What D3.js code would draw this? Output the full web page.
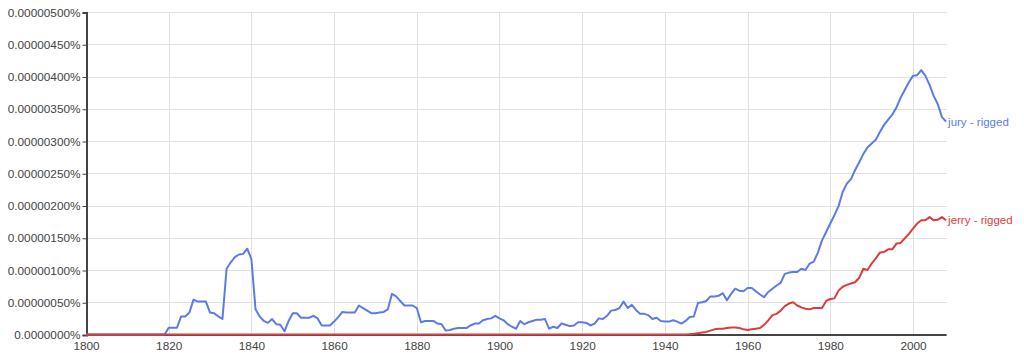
<!DOCTYPE html>
<html>
<head>
<meta charset="utf-8">
<script src="https://cdn.jsdelivr.net/npm/d3@7.9.0/dist/d3.min.js"></script>
<style>
  body { margin: 0; background: #fff; }
  svg { display: block; font-family: "Liberation Sans", Arial, Helvetica, sans-serif; }
  .grid line { stroke: #e0e0e0; stroke-width: 1; }
  .tick text { fill: #444; font-size: 11.8px; }
</style>
</head>
<body>
<svg id="chart" width="1024" height="359"></svg>
<script>
// values are in units of 0.000001 %
const firstYear = 1800;
const lastYear = 2008;
const yTicks = [0, 0.5, 1, 1.5, 2, 2.5, 3, 3.5, 4, 4.5, 5];
const xTicks = [1800, 1820, 1840, 1860, 1880, 1900, 1920, 1940, 1960, 1980, 2000];

// jury - rigged, 1819..2008 (zero before)
const juryStart = 1819;
const juryValues = [
  0, 0.105, 0.105, 0.105, 0.28, 0.28, 0.34, 0.54, 0.51, 0.51,        // 1819-1828
  0.51, 0.34, 0.33, 0.28, 0.24, 1.02, 1.12, 1.2, 1.24, 1.25,          // 1829-1838
  1.33, 1.17, 0.39, 0.28, 0.21, 0.18, 0.24, 0.16, 0.15, 0.05,         // 1839-1848
  0.21, 0.33, 0.33, 0.26, 0.26, 0.26, 0.29, 0.25, 0.14, 0.14,         // 1849-1858
  0.14, 0.2, 0.27, 0.35, 0.34, 0.34, 0.34, 0.45, 0.41, 0.37,          // 1859-1868
  0.33, 0.33, 0.34, 0.35, 0.39, 0.63, 0.59, 0.52, 0.45, 0.45,         // 1869-1878
  0.45, 0.41, 0.19, 0.21, 0.21, 0.21, 0.17, 0.16, 0.06, 0.07,         // 1879-1888
  0.09, 0.1, 0.1, 0.1, 0.14, 0.17, 0.17, 0.22, 0.24, 0.25,            // 1889-1898
  0.29, 0.25, 0.22, 0.16, 0.12, 0.09, 0.21, 0.16, 0.19, 0.21,         // 1899-1908
  0.23, 0.23, 0.24, 0.09, 0.12, 0.1, 0.17, 0.15, 0.13, 0.14,          // 1909-1918
  0.19, 0.19, 0.18, 0.14, 0.17, 0.25, 0.24, 0.29, 0.37, 0.38,         // 1919-1928
  0.41, 0.51, 0.41, 0.46, 0.38, 0.32, 0.32, 0.3, 0.24, 0.26,          // 1929-1938
  0.21, 0.2, 0.2, 0.22, 0.2, 0.17, 0.21, 0.27, 0.28, 0.49,            // 1939-1948
  0.5, 0.52, 0.59, 0.59, 0.6, 0.64, 0.53, 0.63, 0.71, 0.68,           // 1949-1958
  0.67, 0.72, 0.72, 0.67, 0.62, 0.58, 0.66, 0.71, 0.76, 0.8,          // 1959-1968
  0.94, 0.96, 0.97, 0.97, 1.02, 1.0, 1.1, 1.13, 1.27, 1.46,           // 1969-1978
  1.59, 1.72, 1.85, 1.99, 2.21, 2.34, 2.41, 2.55, 2.67, 2.8,          // 1979-1988
  2.9, 2.96, 3.02, 3.14, 3.25, 3.33, 3.41, 3.52, 3.67, 3.79,          // 1989-1998
  3.91, 4.01, 4.02, 4.1, 4.01, 3.87, 3.7, 3.57, 3.37, 3.3             // 1999-2008
];

// jerry - rigged, 1945..2008 (zero before)
const jerryStart = 1945;
const jerryValues = [
  0, 0.005, 0.01, 0.02, 0.03,                                         // 1945-1949
  0.04, 0.06, 0.08, 0.09, 0.09, 0.1, 0.11, 0.11, 0.1, 0.08,           // 1950-1959
  0.07, 0.08, 0.09, 0.1, 0.15, 0.22, 0.3, 0.32, 0.37, 0.44,           // 1960-1969
  0.48, 0.5, 0.45, 0.42, 0.4, 0.39, 0.41, 0.41, 0.41, 0.52,           // 1970-1979
  0.55, 0.56, 0.68, 0.74, 0.77, 0.79, 0.81, 0.88, 1.02, 1.0,          // 1980-1989
  1.1, 1.18, 1.27, 1.28, 1.32, 1.32, 1.41, 1.42, 1.49, 1.56,          // 1990-1999
  1.64, 1.72, 1.77, 1.77, 1.82, 1.77, 1.78, 1.82, 1.77                // 2000-2008
];

const seriesNames = ["jury - rigged", "jerry - rigged"];
const seriesColors = ["#5b7be8", "#dc3c3c"];

function fullSeries(start, values) {
  const out = [];
  for (let y = firstYear; y < start; y++) out.push({ year: y, value: 0 });
  values.forEach((v, i) => out.push({ year: start + i, value: v }));
  return out;
}

const series = [
  fullSeries(juryStart, juryValues),
  fullSeries(jerryStart, jerryValues)
];

const svg = d3.select("#chart");
const plotLeft = 86, plotRight = 947, plotTop = 12, plotBottom = 334.5;

const x = d3.scaleLinear().domain([firstYear, lastYear]).range([plotLeft, plotLeft + (lastYear - firstYear) * 4.135]);
const y = d3.scaleLinear().domain([0, 5]).range([plotBottom, plotTop]);

// grid
const grid = svg.append("g").attr("class", "grid");
grid.selectAll("line.h").data(yTicks).join("line")
  .attr("class", "h")
  .attr("x1", plotLeft).attr("x2", plotRight)
  .attr("y1", d => Math.round(y(d)) + 0.5).attr("y2", d => Math.round(y(d)) + 0.5);
grid.selectAll("line.v").data(xTicks.slice(1)).join("line")
  .attr("class", "v")
  .attr("x1", d => Math.round(x(d)) + 0.5).attr("x2", d => Math.round(x(d)) + 0.5)
  .attr("y1", plotTop).attr("y2", plotBottom);

// axes
const fmt = d3.format(".8f");
const yAxis = d3.axisLeft(y).tickValues(yTicks).tickSize(4).tickPadding(2)
  .tickFormat(d => d === 0 ? "0.0000000%" : fmt(d * 1e-6) + "%");
const gy = svg.append("g").attr("transform", `translate(${plotLeft + 0.5},0.5)`).call(yAxis);
gy.select(".domain").attr("stroke", "#444").attr("stroke-width", 2);
gy.selectAll(".tick line").attr("stroke", "#444");
gy.selectAll(".tick text").attr("dy", "0.3em");

const xAxis = d3.axisBottom(x).tickValues(xTicks).tickSize(0).tickPadding(7).tickFormat(d3.format("d"));
const gx = svg.append("g").attr("transform", `translate(0,${plotBottom})`).call(xAxis);
gx.select(".domain").attr("stroke", "#444").attr("stroke-width", 2);

// lines
const line = d3.line().x(d => x(d.year)).y(d => y(d.value));
series.forEach((s, i) => {
  svg.append("path")
    .datum(s)
    .attr("fill", "none")
    .attr("stroke", seriesColors[i])
    .attr("stroke-width", 2)
    .attr("stroke-linejoin", "round")
    .attr("d", line);
});

// end labels
series.forEach((s, i) => {
  const last = s[s.length - 1];
  svg.append("text")
    .attr("x", x(last.year) + 2)
    .attr("y", y(last.value) + 4)
    .attr("fill", seriesColors[i])
    .attr("font-size", "11.5px")
    .text(seriesNames[i]);
});
</script>
</body>
</html>
